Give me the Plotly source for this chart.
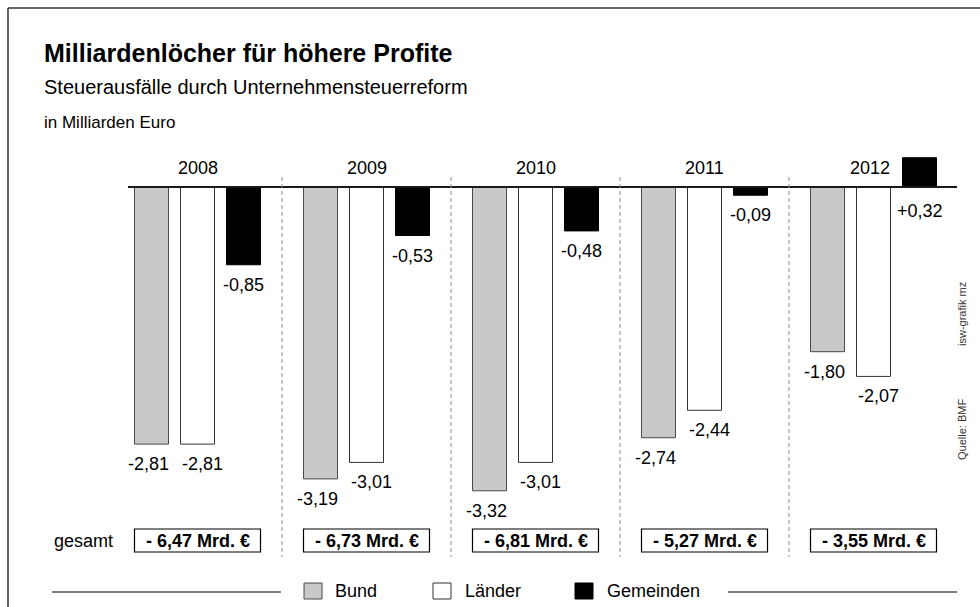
import plotly.graph_objects as go

# ---- data ----
years = ["2008", "2009", "2010", "2011", "2012"]
bund = [-2.81, -3.19, -3.32, -2.74, -1.80]
laender = [-2.81, -3.01, -3.01, -2.44, -2.07]
gemeinden = [-0.85, -0.53, -0.48, -0.09, 0.32]
totals = [-6.47, -6.73, -6.81, -5.27, -3.55]
series_names = ["Bund", "Länder", "Gemeinden"]

W, H = 980, 607
FONT = "Liberation Sans, Arial, Helvetica, sans-serif"

# x axis: group index units (pitch 169 px), group 0 centre at px 197.5
PITCH = 169.0
X0 = 197.5
xr = [(0 - X0) / PITCH, (W - X0) / PITCH]
# y axis: 91.5 px per billion, zero line at px 187
SCALE = 91.5
Y0 = 187.0
yr = [(Y0 - H) / SCALE, Y0 / SCALE]

OFF = 46 / PITCH
BW = 34 / PITCH


def px(x):
    return x / W


def py(y):
    return 1 - y / H


def fmt(v, plus=False):
    s = f"{abs(v):.2f}".replace(".", ",")
    if v < 0:
        return "-" + s
    return ("+" + s) if plus else s


def text(x, y, t, size, xanchor="center", yanchor="middle", xref="paper", yref="paper",
         color="#000", **kw):
    return dict(x=x, y=y, xref=xref, yref=yref, text=t, showarrow=False,
                xanchor=xanchor, yanchor=yanchor,
                font=dict(size=size, color=color, family=FONT), **kw)


idx = list(range(len(years)))
fig = go.Figure()
styles = [
    ("#c9c9c9", "#4a4a4a"),
    ("#ffffff", "#333333"),
    ("#000000", "#000000"),
]
for k, (name, vals) in enumerate(zip(series_names, [bund, laender, gemeinden])):
    fill, line = styles[k]
    fig.add_trace(go.Bar(
        x=[i + (k - 1) * OFF for i in idx], y=vals, width=BW, name=name,
        marker=dict(color=fill, line=dict(color=line, width=1)),
        showlegend=False, hoverinfo="skip",
    ))

ann = []
shapes = []

# value labels
xsh = [-3, 5, 0]
for k, vals in enumerate([bund, laender, gemeinden]):
    for i, v in enumerate(vals):
        yv = v if v < 0 else 0
        ann.append(text(i + (k - 1) * OFF, yv, fmt(v, plus=True), 18, xref="x", yref="y",
                        yshift=-20 if v < 0 else -24, xshift=xsh[k]))

# year labels
for i, yname in enumerate(years):
    ann.append(text(i, 0, yname, 18, xref="x", yref="y", yshift=19,
                    xshift=-4 if i == len(years) - 1 else 0))

# total boxes
for i, t in enumerate(totals):
    x_l = i - OFF - BW / 2
    x_r = i + OFF + BW / 2
    shapes.append(dict(type="rect", xref="x", yref="paper", x0=x_l, x1=x_r,
                       y0=py(552), y1=py(529), line=dict(color="#000", width=1.2),
                       fillcolor="rgba(0,0,0,0)"))
    ann.append(text(i, py(540.5), "<b>- " + fmt(abs(t)) + " Mrd. €</b>", 18, xref="x"))

# zero line
shapes.append(dict(type="line", xref="paper", yref="y", x0=px(128), x1=px(957),
                   y0=0, y1=0, line=dict(color="#1a1a1a", width=2)))
# dashed separators
for i in range(len(years) - 1):
    shapes.append(dict(type="line", xref="x", yref="paper", x0=i + 0.5, x1=i + 0.5,
                       y0=py(177), y1=py(557), line=dict(color="#8a8a8a", width=1, dash="4px,3px")))

# frame (top & left)
shapes.append(dict(type="line", xref="paper", yref="paper", x0=px(8), x1=px(980),
                   y0=py(8), y1=py(8), line=dict(color="#333", width=1.5)))
shapes.append(dict(type="line", xref="paper", yref="paper", x0=px(8), x1=px(8),
                   y0=py(8), y1=py(607), line=dict(color="#333", width=1.5)))

# titles
ann.append(text(px(42), py(53), "<b>Milliardenlöcher für höhere Profite</b>", 25, xanchor="left"))
ann.append(text(px(42), py(87), "Steuerausfälle durch Unternehmensteuerreform", 20, xanchor="left"))
ann.append(text(px(42), py(122), "in Milliarden Euro", 17, xanchor="left"))

# gesamt
ann.append(text(px(52), py(540.5), "gesamt", 18, xanchor="left"))

# side credits
ann.append(text(px(962), py(314), "isw-grafik mz", 11, color="#333", textangle=-90))
ann.append(text(px(962), py(430), "Quelle: BMF", 11, color="#333", textangle=-90))

# legend (custom)
leg_sq = [(304, "#c9c9c9", "#4a4a4a"), (433, "#ffffff", "#333333"), (575, "#000000", "#000000")]
leg_tx = [333, 463, 605]
for (x0, fill, line), tx, name in zip(leg_sq, leg_tx, series_names):
    shapes.append(dict(type="rect", xref="paper", yref="paper", x0=px(x0), x1=px(x0 + 18),
                       y0=py(599), y1=py(583), fillcolor=fill, line=dict(color=line, width=1)))
    ann.append(text(px(tx), py(591), name, 18, xanchor="left"))
shapes.append(dict(type="line", xref="paper", yref="paper", x0=px(52), x1=px(281),
                   y0=py(592), y1=py(592), line=dict(color="#555", width=1.5)))
shapes.append(dict(type="line", xref="paper", yref="paper", x0=px(728), x1=px(957),
                   y0=py(592), y1=py(592), line=dict(color="#555", width=1.5)))

fig.update_layout(
    width=W, height=H, margin=dict(l=0, r=0, t=0, b=0),
    paper_bgcolor="#ffffff", plot_bgcolor="#ffffff",
    xaxis=dict(range=xr, visible=False, fixedrange=True),
    yaxis=dict(range=yr, visible=False, fixedrange=True),
    barmode="overlay", annotations=ann, shapes=shapes,
    font=dict(family=FONT),
)
fig.write_html("out.html", config={"displayModeBar": False},
               post_script="document.body.style.margin='0';document.body.style.padding='0';")
